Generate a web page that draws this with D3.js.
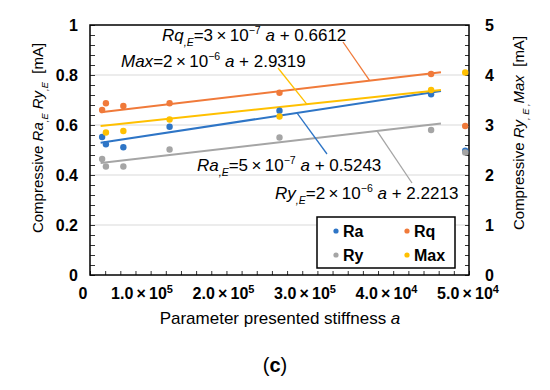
<!DOCTYPE html>
<html>
<head>
<meta charset="utf-8">
<script src="https://cdn.jsdelivr.net/npm/d3@7"></script>
<style>
body { margin: 0; background: #fff; }
text { font-family: "Liberation Sans", Arial, sans-serif; fill: #000; }
</style>
</head>
<body>
<svg id="chart" width="550" height="390"></svg>
<script>
// data
const stiffness = [16000, 21000, 44000, 105000, 250000, 450000, 495000];
const raVals  = [0.552, 0.523, 0.511, 0.593, 0.657, 0.723, 0.497];   // left axis
const rqVals  = [0.660, 0.687, 0.676, 0.687, 0.729, 0.804, 0.596];   // left axis
const ryVals  = [2.32, 2.17, 2.17, 2.51, 2.75, 2.90, 2.45];          // right axis
const maxVals = [null, 2.85, 2.88, 3.11, 3.17, 3.70, 4.05];          // right axis

// trend lines: start / end stiffness and the value at each end
const trendA   = [14000, 463000];
const raTrend  = [0.529, 0.736];
const rqTrend  = [0.651, 0.811];
const ryTrend  = [2.24, 3.03];
const maxTrend = [2.98, 3.70];

const xTicks = [0, 100000, 200000, 300000, 400000, 500000];
const xTickMant = ["0", "1.0", "2.0", "3.0", "4.0", "5.0"];
const xTickExp  = [null, "5", "5", "5", "4", "4"];
const yLeftTicks = [0, 0.2, 0.4, 0.6, 0.8, 1];
const yRightTicks = [0, 1, 2, 3, 4, 5];

const colors = { Ra: "#2e75c6", Rq: "#f07a3a", Ry: "#a5a5a5", Max: "#ffc000" };

const series = [
  { name: "Ra",  vals: raVals,  axis: "L", trend: raTrend },
  { name: "Rq",  vals: rqVals,  axis: "L", trend: rqTrend },
  { name: "Ry",  vals: ryVals,  axis: "R", trend: ryTrend },
  { name: "Max", vals: maxVals, axis: "R", trend: maxTrend }
];

// layout
const margin = { left: 90, top: 25, right: 81, bottom: 115 };
const width = 550 - margin.left - margin.right;   // 379
const height = 390 - margin.top - margin.bottom;  // 250

const x = d3.scaleLinear().domain([0, 500000]).range([0, width]);
const yL = d3.scaleLinear().domain([0, 1]).range([height, 0]);
const yR = d3.scaleLinear().domain([0, 5]).range([height, 0]);
const yOf = s => s.axis === "L" ? yL : yR;

const svg = d3.select("#chart");
const chart = svg.append("g")
  .attr("transform", "translate(" + margin.left + "," + margin.top + ")");

// grid
chart.selectAll(".grid")
  .data(yLeftTicks.filter(d => d > 0 && d < 1)).enter()
  .append("line")
  .attr("x1", 0).attr("x2", width)
  .attr("y1", d => yL(d)).attr("y2", d => yL(d))
  .attr("stroke", "#d9d9d9").attr("stroke-width", 1);

// minor tick marks, pointing inwards
chart.append("g")
  .call(d3.axisRight(yL).tickValues(d3.range(0, 1.0001, 0.04)).tickSize(5).tickFormat(""));
chart.append("g")
  .attr("transform", "translate(" + width + ",0)")
  .call(d3.axisLeft(yR).tickValues(d3.range(0, 5.001, 0.2)).tickSize(4).tickFormat(""));
chart.append("g")
  .attr("transform", "translate(0," + height + ")")
  .call(d3.axisTop(x).tickValues(d3.range(0, 500001, 20000)).tickSize(4).tickFormat(""));
chart.selectAll(".domain").remove();
chart.selectAll(".tick line").attr("stroke", "#333");

// frame
chart.append("rect")
  .attr("width", width).attr("height", height)
  .attr("fill", "none").attr("stroke", "#000").attr("stroke-width", 1.5);

// tick labels
const leftLab = chart.append("g")
  .call(d3.axisLeft(yL).tickValues(yLeftTicks).tickSize(0).tickPadding(12).tickFormat(d3.format("~g")));
const rightLab = chart.append("g")
  .attr("transform", "translate(" + width + ",0)")
  .call(d3.axisRight(yR).tickValues(yRightTicks).tickSize(0).tickPadding(16).tickFormat(d3.format("d")));
[leftLab, rightLab].forEach(g => {
  g.select(".domain").remove();
  g.selectAll("text").attr("font-size", 16).attr("font-weight", "bold")
    .attr("font-family", '"Liberation Sans", Arial, sans-serif');
});

// x tick labels (the picture spaces them unevenly)
const xLab = d3.scaleLinear().domain([100000, 500000]).range([x(0) + 52, x(500000) - 1]);
const xt = chart.append("g").selectAll("text")
  .data(xTicks).enter()
  .append("text")
  .attr("x", (d, i) => i === 0 ? x(0) - 7 : xLab(d))
  .attr("y", height + 24)
  .attr("text-anchor", "middle")
  .attr("font-family", '"Noto Sans CJK JP", sans-serif')
  .attr("font-weight", "bold")
  .attr("font-size", 16);
xt.append("tspan").text((d, i) => xTickMant[i] + (xTickExp[i] ? "\u2009\u00d7\u200910" : ""));
xt.filter((d, i) => xTickExp[i])
  .append("tspan").attr("dy", -6).attr("font-size", 11)
  .text(d => xTickExp[xTicks.indexOf(d)]);

// trend lines
series.forEach(s => {
  const y = yOf(s);
  chart.append("line")
    .attr("x1", x(trendA[0])).attr("y1", y(s.trend[0]))
    .attr("x2", x(trendA[1])).attr("y2", y(s.trend[1]))
    .attr("stroke", colors[s.name]).attr("stroke-width", 2);
});

// points
series.forEach(s => {
  const y = yOf(s);
  chart.selectAll(".pt-" + s.name)
    .data(s.vals.map((v, i) => ({ a: stiffness[i], v: v })).filter(d => d.v != null))
    .enter()
    .append("circle")
    .attr("cx", d => x(d.a)).attr("cy", d => y(d.v))
    .attr("r", 3.2)
    .attr("fill", colors[s.name]);
});

// rich text helper: parts = [text, style] where style in i, sub, sup
function rich(g, px, py, parts, size, anchor) {
  const t = g.append("text").attr("x", px).attr("y", py)
    .attr("font-size", size).attr("text-anchor", anchor || "start");
  let shift = 0;
  parts.forEach(p => {
    const st = p[1] || "";
    let target = 0;
    if (st.includes("sub")) target = size * 0.3;
    if (st.includes("sup")) target = -size * 0.4;
    t.append("tspan")
      .attr("dy", target - shift)
      .attr("font-size", (st.includes("sub") || st.includes("sup")) ? size * 0.62 : size)
      .attr("font-style", st.includes("i") ? "italic" : "normal")
      .text(p[0]);
    shift = target;
  });
  return t;
}

// equation labels with leader lines
const notes = [
  { s: series[1], at: 369000, tx: 343 - 90, ty: 42 - 25, lx: 162, ly: 41,
    parts: [["Rq", "i"], [",E", "i sub"], ["=3\u2009\u00d7\u200910"], ["\u22127", "sup"], [" a", "i"], [" + 0.6612"]] },
  { s: series[3], at: 286000, tx: 278 - 90, ty: 68 - 25, lx: 121, ly: 67,
    parts: [["Max", "i"], ["=2\u2009\u00d7\u200910"], ["\u22126", "sup"], [" a", "i"], [" + 2.9319"]] },
  { s: series[0], at: 273000, tx: 327 - 90, ty: 154 - 25, lx: 197, ly: 171,
    parts: [["Ra", "i"], [",E", "i sub"], ["=5\u2009\u00d7\u200910"], ["\u22127", "sup"], [" a", "i"], [" + 0.5243"]] },
  { s: series[2], at: 378600, tx: 412 - 90, ty: 183 - 25, lx: 275, ly: 199,
    parts: [["Ry", "i"], [",E", "i sub"], ["=2\u2009\u00d7\u200910"], ["\u22126", "sup"], [" a", "i"], [" + 2.2213"]] }
];
notes.forEach(n => {
  const y = yOf(n.s);
  const f = (n.at - trendA[0]) / (trendA[1] - trendA[0]);
  const v = n.s.trend[0] + f * (n.s.trend[1] - n.s.trend[0]);
  chart.append("line")
    .attr("x1", x(n.at)).attr("y1", y(v))
    .attr("x2", n.tx).attr("y2", n.ty)
    .attr("stroke", colors[n.s.name]).attr("stroke-width", 1.3);
  rich(svg, n.lx, n.ly, n.parts, 17);
});

// legend
const legend = svg.append("g").attr("transform", "translate(317,217)");
legend.append("rect").attr("width", 138).attr("height", 51)
  .attr("fill", "#fff").attr("stroke", "#000").attr("stroke-width", 1.5);
const legItems = legend.selectAll(".leg").data(series).enter()
  .append("g")
  .attr("transform", (d, i) => "translate(" + (i % 2 ? 90 : 19) + "," + (i < 2 ? 14 : 38) + ")");
legItems.append("circle").attr("r", 2.6).attr("fill", d => colors[d.name]);
legItems.append("text").attr("x", 7).attr("y", 6)
  .attr("font-size", 16).attr("font-weight", "bold").text(d => d.name);

// axis titles
rich(svg, 0, 0, [["Compressive "], ["Ra", "i"], [",E", "i sub"], [" "], ["Ry", "i"], [",E", "i sub"], ["\u00a0\u00a0[mA]"]], 15, "middle")
  .attr("transform", "translate(43,138) rotate(-90)");
rich(svg, 0, 0, [["Compressive "], ["Ry", "i"], [", E ,", "i sub"], ["Max", "i"], ["\u00a0\u00a0[mA]"]], 15, "middle")
  .attr("transform", "translate(524,133) rotate(-90)");

const xt2 = svg.append("text").attr("x", 280).attr("y", 324)
  .attr("text-anchor", "middle").attr("font-size", 17)
  .attr("font-family", '"Noto Sans CJK JP", sans-serif');
xt2.append("tspan").text("Parameter presented stiffness ");
xt2.append("tspan").attr("font-style", "italic").text("a");

const cap = svg.append("text").attr("x", 275).attr("y", 372)
  .attr("text-anchor", "middle").attr("font-size", 20)
  .attr("font-family", '"Liberation Serif", serif');
cap.append("tspan").text("(");
cap.append("tspan").attr("font-weight", "bold").text("c");
cap.append("tspan").text(")");
</script>
</body>
</html>
